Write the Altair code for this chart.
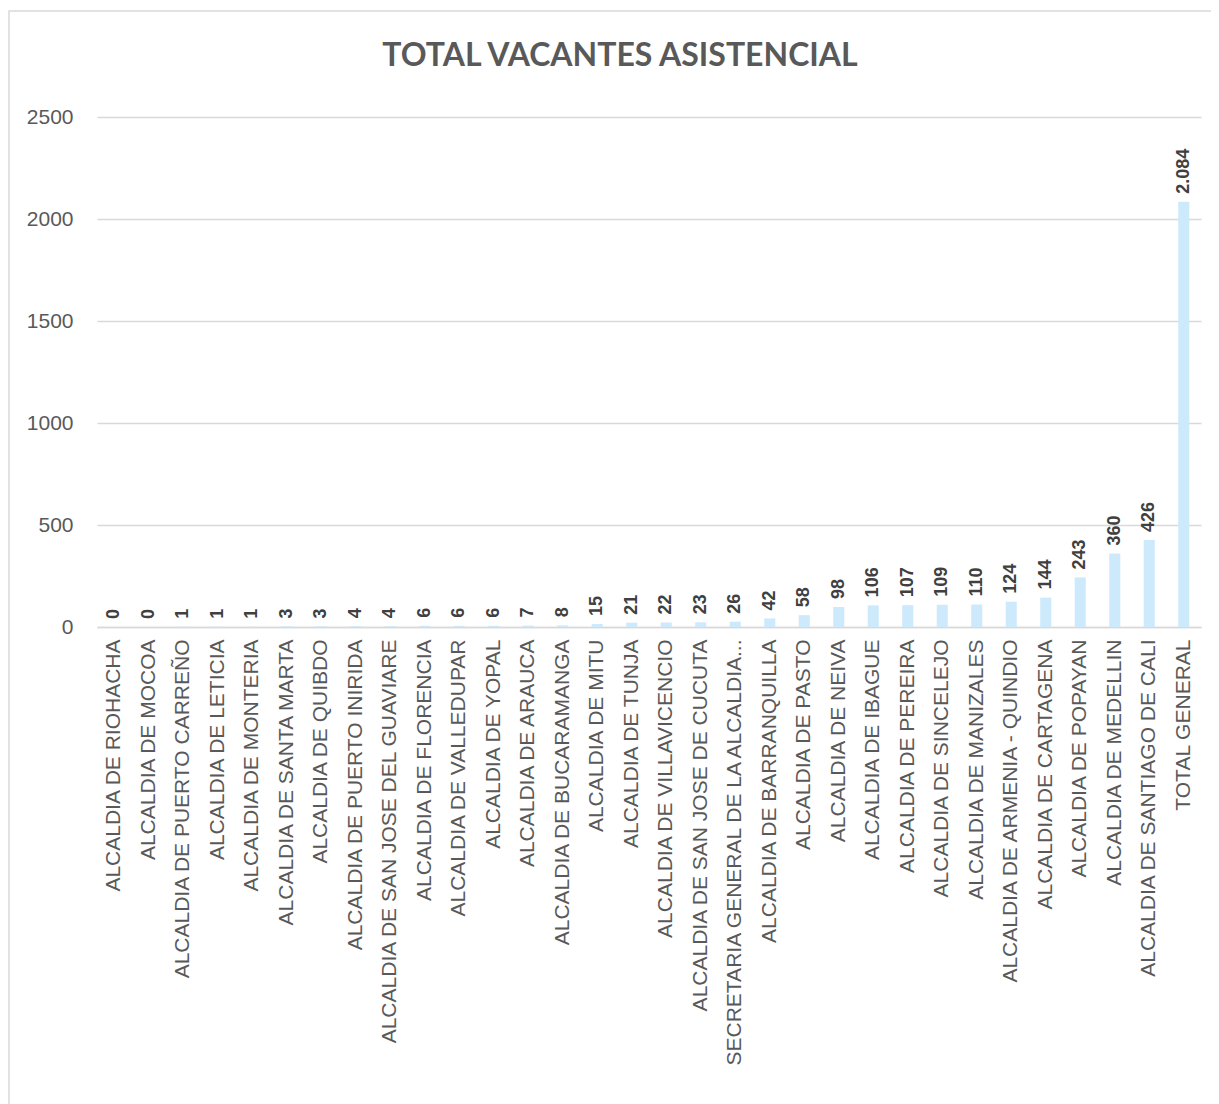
import altair as alt
import pandas as pd

title_text = "TOTAL VACANTES ASISTENCIAL"
categories = [
    "ALCALDIA DE RIOHACHA", "ALCALDIA DE MOCOA", "ALCALDIA DE PUERTO CARREÑO",
    "ALCALDIA DE LETICIA", "ALCALDIA DE MONTERIA", "ALCALDIA DE SANTA MARTA",
    "ALCALDIA DE QUIBDO", "ALCALDIA DE PUERTO INIRIDA", "ALCALDIA DE SAN JOSE DEL GUAVIARE",
    "ALCALDIA DE FLORENCIA", "ALCALDIA DE VALLEDUPAR", "ALCALDIA DE YOPAL",
    "ALCALDIA DE ARAUCA", "ALCALDIA DE BUCARAMANGA", "ALCALDIA DE MITU",
    "ALCALDIA DE TUNJA", "ALCALDIA DE VILLAVICENCIO", "ALCALDIA DE SAN JOSE DE CUCUTA",
    "SECRETARIA GENERAL DE LA ALCALDIA...", "ALCALDIA DE BARRANQUILLA", "ALCALDIA DE PASTO",
    "ALCALDIA DE NEIVA", "ALCALDIA DE IBAGUE", "ALCALDIA DE PEREIRA",
    "ALCALDIA DE SINCELEJO", "ALCALDIA DE MANIZALES", "ALCALDIA DE ARMENIA - QUINDIO",
    "ALCALDIA DE CARTAGENA", "ALCALDIA DE POPAYAN", "ALCALDIA DE MEDELLIN",
    "ALCALDIA DE SANTIAGO DE CALI", "TOTAL GENERAL",
]
values = [0, 0, 1, 1, 1, 3, 3, 4, 4, 6, 6, 6, 7, 8, 15, 21, 22, 23, 26, 42, 58,
          98, 106, 107, 109, 110, 124, 144, 243, 360, 426, 2084]
y_ticks = [0, 500, 1000, 1500, 2000, 2500]

df = pd.DataFrame({
    "cat": categories,
    "val": values,
    "lbl": [f"{v:,}".replace(",", ".") for v in values],
})

W, H = 1104, 510

x_enc = alt.X(
    "cat:N", sort=None, title=None,
    scale=alt.Scale(paddingInner=0.68, paddingOuter=0.34),
    axis=alt.Axis(labelAngle=-90, labelAlign="right", labelBaseline="middle",
                  labelFont="Liberation Sans", labelFontSize=21, labelColor="#595959",
                  labelPadding=12, labelLimit=600, ticks=False,
                  domainColor="#d9d9d9", domainWidth=1.5, grid=False),
)
y_enc = alt.Y(
    "val:Q", title=None,
    scale=alt.Scale(domain=[0, 2500], nice=False),
    axis=alt.Axis(values=y_ticks, format="d", labelFont="Liberation Sans", labelFontSize=21,
                  labelColor="#595959", labelPadding=24, ticks=False, domain=False,
                  grid=True, gridColor="#d9d9d9", gridWidth=1.3),
)

base = alt.Chart(df)

one = pd.DataFrame({"t": [title_text]})

border = alt.Chart(one).mark_rect(
    filled=False, stroke="#d9d9d9", strokeWidth=1.5
).encode(x=alt.value(-88), x2=alt.value(1300), y=alt.value(-106), y2=alt.value(1200))

title = alt.Chart(one).mark_text(
    font="Lato", fontSize=32, fontWeight="bold", color="#595959",
    align="center", baseline="alphabetic",
).encode(x=alt.value(523), y=alt.value(-51), text="t:N")

bars = base.mark_bar(color="#cde9fc").encode(x=x_enc, y=y_enc)

labels = base.mark_text(
    angle=270, align="left", baseline="middle", dx=8,
    font="Liberation Sans", fontSize=18, fontWeight="bold", color="#404040",
).encode(x=alt.X("cat:N", sort=None), y=alt.Y("val:Q"), text="lbl:N")

chart = alt.layer(border, title, bars, labels).properties(
    width=W, height=H,
    autosize=alt.AutoSizeParams(type="none"),
    padding={"left": 89, "top": 109, "right": 10, "bottom": 480},
).configure_view(stroke=None)

chart.save("out.html", embed_options={"renderer": "svg", "actions": False})
